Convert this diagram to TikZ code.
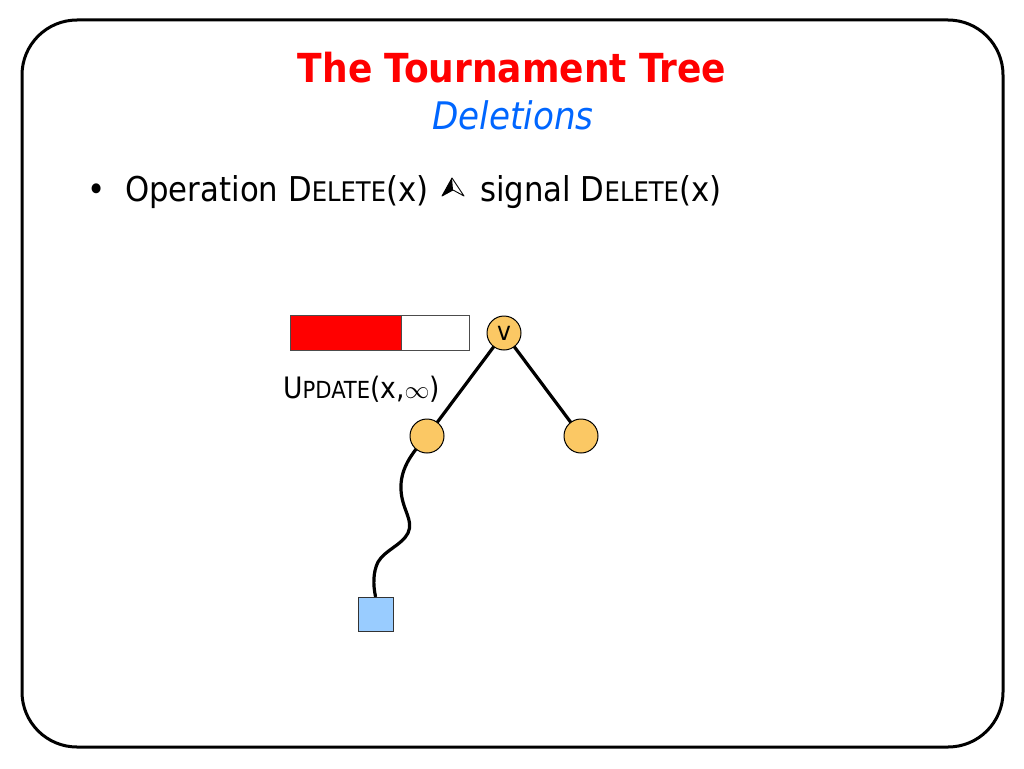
\documentclass[tikz,border=0pt]{standalone}
\usepackage{fontspec}
\usetikzlibrary{backgrounds}
\setmainfont{DejaVu Sans}
\newfontfamily\condfont{DejaVu Sans Condensed}
\definecolor{nodeorange}{HTML}{FBC864}
\definecolor{leafblue}{HTML}{99CCFF}
\definecolor{titlered}{HTML}{FF0000}
\definecolor{subblue}{HTML}{0066FF}
\newcommand{\mysc}[3]{#2{\fontsize{#1}{#1}\selectfont #3}}
\begin{document}
\begin{tikzpicture}[x=1pt,y=-1pt,
  treenode/.style={circle,draw=black,line width=1pt,fill=nodeorange,minimum size=34pt,inner sep=0pt},
  leafbox/.style={rectangle,draw=black!80,line width=1pt,fill=leafblue,minimum width=35pt,minimum height=34pt,inner sep=0pt},
  edge/.style={line width=3.2pt,black},
  body/.style={font=\condfont\fontsize{34.2}{40}\selectfont,inner sep=0pt,anchor=base west}]
\useasboundingbox (0,0) rectangle (1024,768);
\draw[line width=3pt,rounded corners=55pt] (22,20) rectangle (1003,747);
\node[font=\condfont\bfseries\fontsize{40}{48}\selectfont,text=titlered,inner sep=0pt] (title) at (512,68) {The Tournament Tree};
\node[font=\condfont\itshape\fontsize{38}{44}\selectfont,text=subblue,inner sep=0pt] (sub) at (513,115) {Deletions};
\node[body,anchor=base] (bullet) at (97,201) {•};
\node[body] (t1) at (125,201) {Operation \mysc{27}{D}{ELETE}(x)};
\node[body] (t2) at (480,201) {signal \mysc{27}{D}{ELETE}(x)};
% arrowhead symbol
\coordinate (ap) at (452,178);
\coordinate (al) at (442,196);
\coordinate (an) at (453,190);
\coordinate (ar) at (464,196);
\fill[black] (ap) -- (al) -- (an) -- cycle;
\draw[line width=0.9pt,line join=round] (ap) -- (al) -- (an) -- (ar) -- cycle;
% bar
\node[rectangle,draw=black!70,line width=1pt,fill=red,minimum width=111pt,minimum height=35pt,inner sep=0pt,anchor=north west] (barred) at (290,315) {};
\node[rectangle,draw=black!70,line width=1pt,fill=white,minimum width=68pt,minimum height=35pt,inner sep=0pt,anchor=north west] (barwhite) at (401,315) {};
% tree
\node[treenode,font=\condfont\fontsize{26}{30}\selectfont] (v) at (504,333) {v};
\node[treenode] (l) at (427,436) {};
\node[treenode] (r) at (581,436) {};
\node[leafbox] (leaf) at (375.5,614) {};
\begin{pgfonlayer}{background}
\draw[edge] (v.center) -- (l.center);
\draw[edge] (v.center) -- (r.center);
\draw[edge,line cap=round] (l.center) .. controls (410,455) and (400,470) .. (401,490)
  .. controls (402,510) and (414,520) .. (408,533)
  .. controls (402,545) and (385,550) .. (378,562)
  .. controls (373,572) and (373,585) .. (leaf.north);
\end{pgfonlayer}
\node[font=\condfont\fontsize{29.5}{34}\selectfont,inner sep=0pt,anchor=base west] (upd) at (283,398) {\mysc{23.5}{U}{PDATE}(x,$\infty$)};
\end{tikzpicture}
\end{document}
